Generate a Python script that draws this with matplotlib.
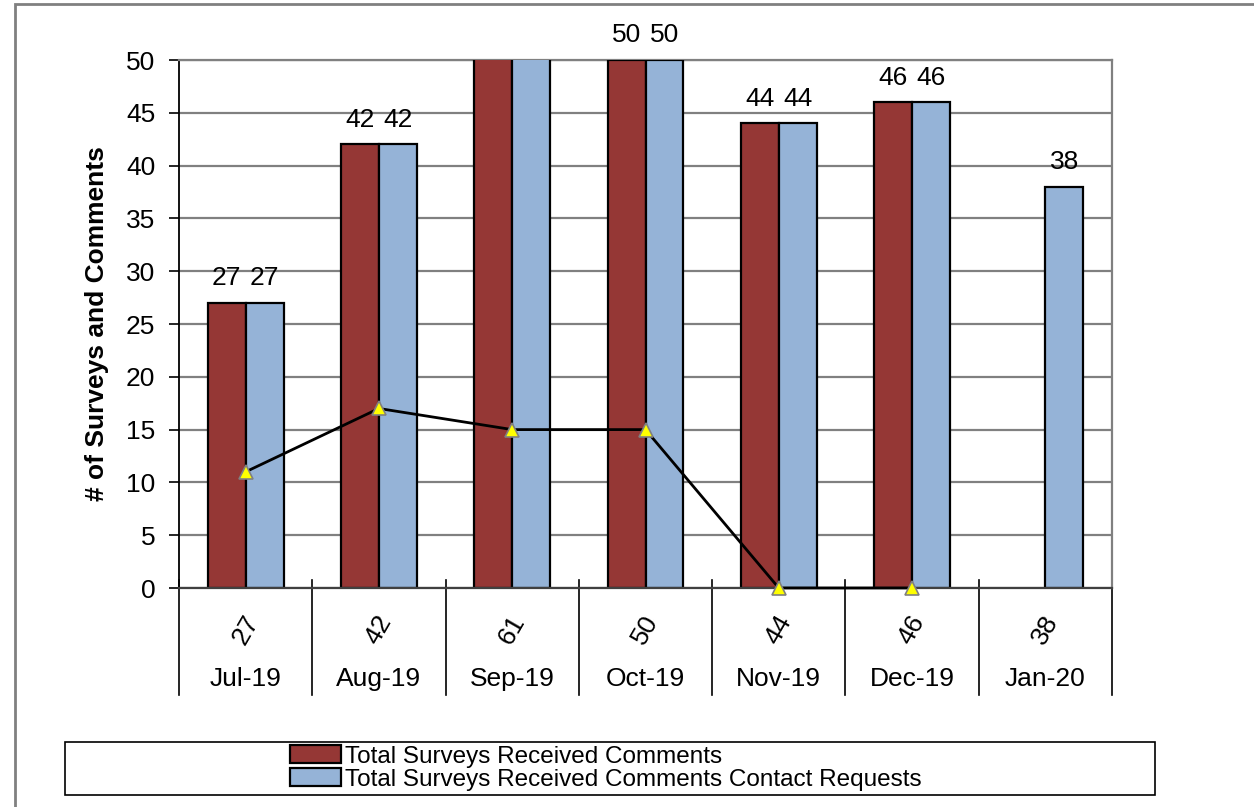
import numpy as np
import matplotlib
matplotlib.use("Agg")
import matplotlib.pyplot as plt
from matplotlib.patches import Rectangle
from matplotlib.lines import Line2D
import matplotlib.transforms as mtransforms

plt.rcParams['font.family'] = ['Liberation Sans', 'DejaVu Sans']

months = ["Jul-19", "Aug-19", "Sep-19", "Oct-19", "Nov-19", "Dec-19", "Jan-20"]
totals = ["27", "42", "61", "50", "44", "46", "38"]
comments = [27, 42, 61, 50, 44, 46, np.nan]
contact_requests = [27, 42, 61, 50, 44, 46, 38]
trend = [11, 17, 15, 15, 0, 0, np.nan]

RED = "#953735"
BLUE = "#95B3D7"
GRID = "#808080"
FS = 19

W, H = 1254, 807
fig = plt.figure(figsize=(W / 100, H / 100), dpi=100)

# outer chart border
fig.add_artist(Rectangle((15 / W, -0.05), 1.1, (H - 4) / H + 0.05,
                         transform=fig.transFigure, fill=False,
                         edgecolor=GRID, linewidth=2))

left, right, top, bottom = 179, 1112, 60, 588
ax = fig.add_axes([left / W, (H - bottom) / H, (right - left) / W, (bottom - top) / H])

x = np.arange(len(months))
bw = 0.285
ymax = 50

b1 = ax.bar(x - bw / 2, comments, bw, color=RED, edgecolor="black", linewidth=1.6,
            label="Total Surveys Received Comments", zorder=3)
b2 = ax.bar(x + bw / 2, contact_requests, bw, color=BLUE, edgecolor="black", linewidth=1.6,
            label="Total Surveys Received Comments Contact Requests", zorder=3)

for bars, vals in ((b1, comments), (b2, contact_requests)):
    for rect, v in zip(bars, vals):
        if np.isnan(v) or v > ymax:
            continue
        ax.annotate(f"{int(v)}", (rect.get_x() + rect.get_width() / 2, v),
                    xytext=(0, 9), textcoords="offset points",
                    ha="center", va="bottom", fontsize=FS, annotation_clip=False)

ax.plot(x, trend, color="black", linewidth=2, marker="^", markersize=10,
        markerfacecolor="#FFFF00", markeredgecolor="#808080", markeredgewidth=1.2,
        zorder=5, clip_on=False)

ax.set_xlim(-0.5, len(months) - 0.5)
ax.set_ylim(0, ymax)
ax.set_yticks(np.arange(0, 51, 5))
ax.tick_params(axis="y", labelsize=FS, length=7, width=1.2, color="black", pad=10)
ax.yaxis.grid(True, color=GRID, linewidth=1.6, zorder=0)
ax.set_axisbelow(True)
ax.set_xticks([])

for side in ("top", "right"):
    ax.spines[side].set_color(GRID)
    ax.spines[side].set_linewidth(1.6)
ax.spines["left"].set_color("black")
ax.spines["left"].set_linewidth(1.3)
ax.spines["bottom"].set_color("#404040")
ax.spines["bottom"].set_linewidth(1.6)
ax.spines["bottom"].set_zorder(4)

ax.set_ylabel("# of Surveys and Comments", fontsize=FS, fontweight="bold", labelpad=12)

# two-level category axis
trans = mtransforms.blended_transform_factory(ax.transData, ax.transAxes)
ph = bottom - top
for b in np.arange(-0.5, len(months), 1.0):
    ax.add_line(Line2D([b, b], [8 / ph, -107 / ph], transform=trans, color="black",
                       linewidth=1.2, clip_on=False))
for xi, t, m in zip(x, totals, months):
    ax.text(xi, -42 / ph, t, transform=trans, ha="center", va="center",
            rotation=60, fontsize=FS, rotation_mode="anchor")
    ax.text(xi, -91 / ph, m, transform=trans, ha="center", va="center", fontsize=FS)

# legend box
fig.add_artist(Rectangle((65 / W, (H - 795) / H), 1090 / W, 53 / H,
                         transform=fig.transFigure, fill=False,
                         edgecolor="black", linewidth=1.2))
fig.legend(handles=[b1, b2], loc="center left",
           bbox_to_anchor=(290 / W, (H - 768) / H), frameon=False,
           fontsize=17.5, handlelength=2.1, handleheight=0.75, handletextpad=0.15,
           labelspacing=0.02, borderpad=0, borderaxespad=0)

fig.savefig("out.png", dpi=100)
